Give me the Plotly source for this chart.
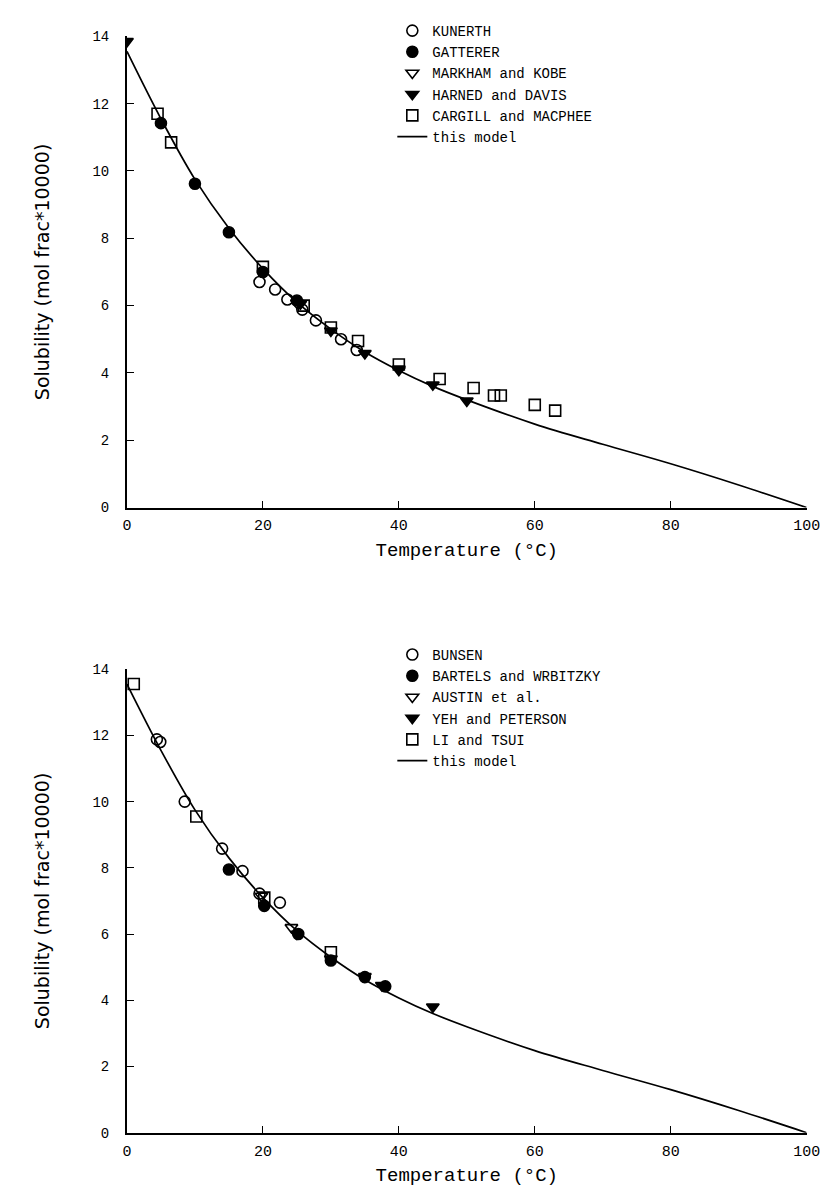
import plotly.graph_objects as go

# model curve (same model in both panels)
model_t = [0, 5, 10, 15, 20, 25, 30, 35, 40, 45, 50, 60, 70, 80, 90, 100]
model_s = [13.55, 11.55, 9.75, 8.3, 7.1, 6.1, 5.3, 4.62, 4.07, 3.6, 3.2, 2.48, 1.88, 1.3, 0.67, 0.0]

# top panel data
kunerth_t = [19.5, 21.8, 23.6, 25.8, 27.8, 31.5, 33.8]
kunerth_s = [6.7, 6.48, 6.18, 5.88, 5.56, 5.0, 4.68]
gatterer_t = [5.0, 10.0, 15.0, 20.0, 25.0]
gatterer_s = [11.42, 9.62, 8.18, 7.0, 6.15]
markham_t = [25.0, 40.0]
markham_s = [6.08, 4.12]
harned_t = [0.0, 25.5, 30.0, 35.0, 40.0, 45.0, 50.0]
harned_s = [13.85, 6.05, 5.25, 4.58, 4.08, 3.65, 3.17]
cargill_t = [4.5, 6.5, 20.0, 26.0, 30.0, 34.0, 40.0, 46.0, 51.0, 54.0, 55.0, 60.0, 63.0]
cargill_s = [11.7, 10.85, 7.15, 6.0, 5.35, 4.95, 4.25, 3.82, 3.55, 3.33, 3.33, 3.05, 2.88]

# bottom panel data
bunsen_t = [4.4, 4.9, 8.5, 14.0, 17.0, 19.5, 22.5]
bunsen_s = [11.88, 11.8, 10.0, 8.58, 7.9, 7.22, 6.95]
bartels_t = [15.0, 20.2, 25.2, 30.0, 35.0, 38.0]
bartels_s = [7.95, 6.85, 6.0, 5.2, 4.7, 4.42]
austin_t = [19.8, 24.2]
austin_s = [7.15, 6.2]
yeh_t = [25.0, 30.0, 35.0, 37.5, 45.0]
yeh_s = [6.0, 5.25, 4.72, 4.45, 3.8]
li_t = [1.0, 10.2, 20.2, 30.0]
li_s = [13.55, 9.55, 7.1, 5.45]

mono = "Liberation Mono"
ink = "#000000"

fig = go.Figure()


def add_panel(sets, xa, ya, legend):
    for name, t, s, sym in sets:
        fig.add_trace(go.Scatter(
            x=t, y=s, mode="markers", name=name, xaxis=xa, yaxis=ya, legend=legend,
            marker=dict(symbol=sym, size=11, color=ink, line=dict(color=ink, width=1.6)),
        ))
    fig.add_trace(go.Scatter(
        x=model_t, y=model_s, mode="lines", name="this model", xaxis=xa, yaxis=ya,
        legend=legend, line=dict(color=ink, width=1.7, shape="spline", smoothing=1.0),
    ))


add_panel([
    ("KUNERTH", kunerth_t, kunerth_s, "circle-open"),
    ("GATTERER", gatterer_t, gatterer_s, "circle"),
    ("MARKHAM and KOBE", markham_t, markham_s, "triangle-down-open"),
    ("HARNED and DAVIS", harned_t, harned_s, "triangle-down"),
    ("CARGILL and MACPHEE", cargill_t, cargill_s, "square-open"),
], "x", "y", "legend")

add_panel([
    ("BUNSEN", bunsen_t, bunsen_s, "circle-open"),
    ("BARTELS and WRBITZKY", bartels_t, bartels_s, "circle"),
    ("AUSTIN et al.", austin_t, austin_s, "triangle-down-open"),
    ("YEH and PETERSON", yeh_t, yeh_s, "triangle-down"),
    ("LI and TSUI", li_t, li_s, "square-open"),
], "x2", "y2", "legend2")

xaxis_style = dict(
    range=[0, 100], tickvals=[0, 20, 40, 60, 80, 100], ticks="inside", ticklen=7,
    tickwidth=1.4, tickcolor=ink, showline=True, linecolor=ink, linewidth=1.8,
    showgrid=False, zeroline=False, ticklabelstandoff=3,
    tickfont=dict(family=mono, size=15, color=ink),
    title=dict(text="Temperature (°C)", font=dict(family=mono, size=19, color=ink), standoff=8),
)
yaxis_style = dict(
    range=[0, 14], tickvals=[0, 2, 4, 6, 8, 10, 12, 14], ticks="inside", ticklen=7,
    tickwidth=1.4, tickcolor=ink, showline=True, linecolor=ink, linewidth=1.8,
    showgrid=False, zeroline=False, ticklabelstandoff=13,
    tickfont=dict(family=mono, size=14, color=ink),
    title=dict(text="Solubility (mol frac*10000)",
               font=dict(family="DejaVu Sans", size=19, color=ink), standoff=38),
)

legend_style = dict(
    font=dict(family=mono, size=14, color=ink), bgcolor="rgba(0,0,0,0)",
    tracegroupgap=0, itemwidth=30, xanchor="left", yanchor="top",
)

fig.update_layout(
    width=833, height=1200, margin=dict(l=0, r=0, t=0, b=0),
    paper_bgcolor="white", plot_bgcolor="white",
    xaxis=dict(domain=[0.14, 0.975], anchor="y", **xaxis_style),
    yaxis=dict(domain=[0.584, 0.982], anchor="x", **yaxis_style),
    xaxis2=dict(domain=[0.14, 0.975], anchor="y2", **xaxis_style),
    yaxis2=dict(domain=[0.056, 0.4475], anchor="x2", **yaxis_style),
    legend=dict(x=0.466, y=1.0, **legend_style),
    legend2=dict(x=0.466, y=0.473, **legend_style),
)

fig.write_html("out.html")
